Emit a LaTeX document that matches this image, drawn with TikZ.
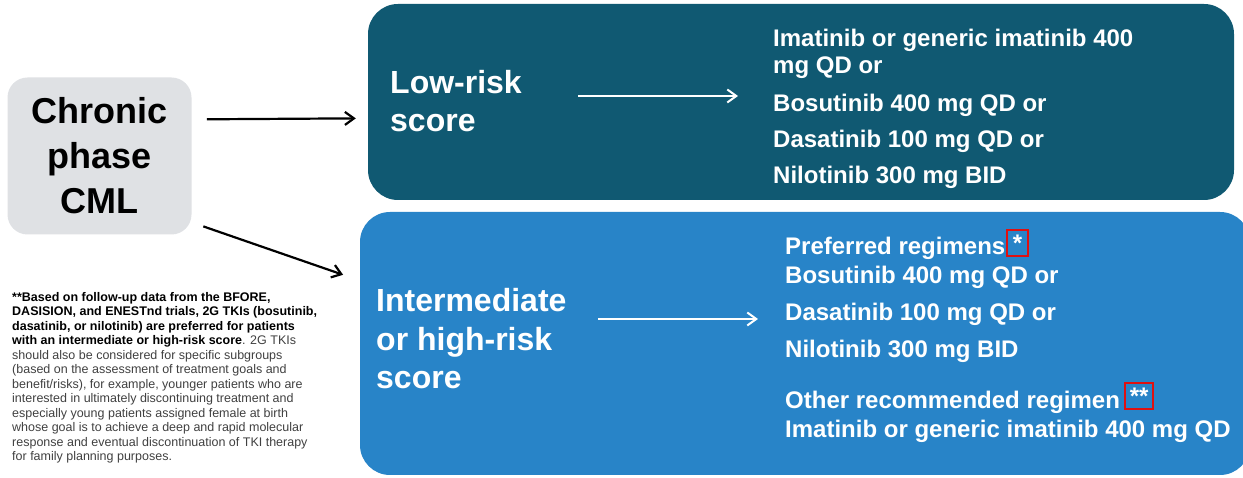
\documentclass[tikz,border=0pt]{standalone}
\usepackage{fontspec}
\setmainfont{Liberation Sans}
\usepackage{tikz}
\usetikzlibrary{arrows.meta}
\usetikzlibrary{positioning}

\definecolor{cmlgray}{HTML}{DFE1E4}
\definecolor{lowteal}{HTML}{105972}
\definecolor{highblue}{HTML}{2884C8}
\definecolor{notegray}{HTML}{404040}
\definecolor{markred}{HTML}{E01010}

\tikzset{
  riskbox/.style={rounded corners=30pt, inner sep=0pt},
  riskhead/.style={anchor=base west, inner sep=0pt, text=white,
    font=\fontsize{32}{38.5}\selectfont\bfseries, align=left},
  drug/.style={anchor=base west, inner sep=0pt, text=white,
    font=\fontsize{24}{27}\selectfont\bfseries, align=left},
  markbox/.style={draw=markred, line width=2pt, inner sep=0pt, text=white,
    font=\fontsize{24}{27}\selectfont\bfseries},
  arr/.style={line width=2.2pt, -{Straight Barb[length=9pt,width=13pt]}},
}

\begin{document}
\begin{tikzpicture}[x=1pt,y=1pt]
    \useasboundingbox (0,0) rectangle (1243,478);
    % boxes
    \node[riskbox, fill=lowteal, minimum width=866pt, minimum height=196pt] (low) at (801,376) {};
    \node[riskbox, fill=highblue, minimum width=890pt, minimum height=263pt] (high) at (805,134.5) {};
    \node[rounded corners=20pt, fill=cmlgray, minimum width=184pt, minimum height=157pt,
        align=center, font=\fontsize{36}{45}\selectfont\bfseries] (cml) at (99.5,322) {Chronic\\phase\\CML};

    % arrows from the phase box
    \draw[arr, shorten >=12pt] ([shift={(15.2,36.7)}]cml.east) -- (low.west |- 0,359.7);
    \draw[arr] ([shift={(11.6,8.3)}]cml.south east) -- ([shift={(-16.7,-63)}]high.north west);

    % low risk (multi-line nodes sit on their last baseline)
    \node[riskhead] (lowhead) at (390,346.3) {Low-risk\\score};
    \draw[arr, white, line width=2pt] (578,382) -- (738,382);
    \node[drug] (low1) at (773,404) {Imatinib or generic imatinib 400\\mg QD or};
    \node[drug] (low2) at (773,366.3) {Bosutinib 400 mg QD or};
    \node[drug] (low3) at (773,330.3) {Dasatinib 100 mg QD or};
    \node[drug] (low4) at (773,294.7) {Nilotinib 300 mg BID};

    % intermediate or high risk
    \node[riskhead] (highhead) at (376,89) {Intermediate\\or high-risk\\score};
    \draw[arr, white, line width=2pt] (598,159) -- (758,159);
    \node[drug] (pref) at (785,223) {Preferred regimens};
    \node[markbox, minimum width=21.6pt, minimum height=26pt] (pref star) at (1017.5,235) {*};
    \node[drug] (high1) at (785,194.7) {Bosutinib 400 mg QD or};
    \node[drug] (high2) at (785,157.3) {Dasatinib 100 mg QD or};
    \node[drug] (high3) at (785,120.3) {Nilotinib 300 mg BID};
    \node[drug] (other) at (785,69.7) {Other recommended regimen};
    \node[markbox, minimum width=28.3pt, minimum height=26pt] (other star) at (1139.2,81.7) {**};
    \node[drug] (high4) at (785,40.7) {Imatinib or generic imatinib 400 mg QD};

    % footnote
    \node[anchor=north west, inner sep=0pt, align=left, text=notegray,
        font=\fontsize{12.5}{14.5}\selectfont] (note) at (12,186) {%
      \textcolor{black}{\textbf{**Based on follow-up data from the BFORE,}}\\
      \textcolor{black}{\textbf{DASISION, and ENESTnd trials, 2G TKIs (bosutinib,}}\\
      \textcolor{black}{\textbf{dasatinib, or nilotinib) are preferred for patients}}\\
      \textcolor{black}{\textbf{with an intermediate or high-risk score}}. 2G TKIs\\
      should also be considered for specific subgroups\\
      (based on the assessment of treatment goals and\\
      benefit/risks), for example, younger patients who are\\
      interested in ultimately discontinuing treatment and\\
      especially young patients assigned female at birth\\
      whose goal is to achieve a deep and rapid molecular\\
      response and eventual discontinuation of TKI therapy\\
      for family planning purposes.};
\end{tikzpicture}
\end{document}
